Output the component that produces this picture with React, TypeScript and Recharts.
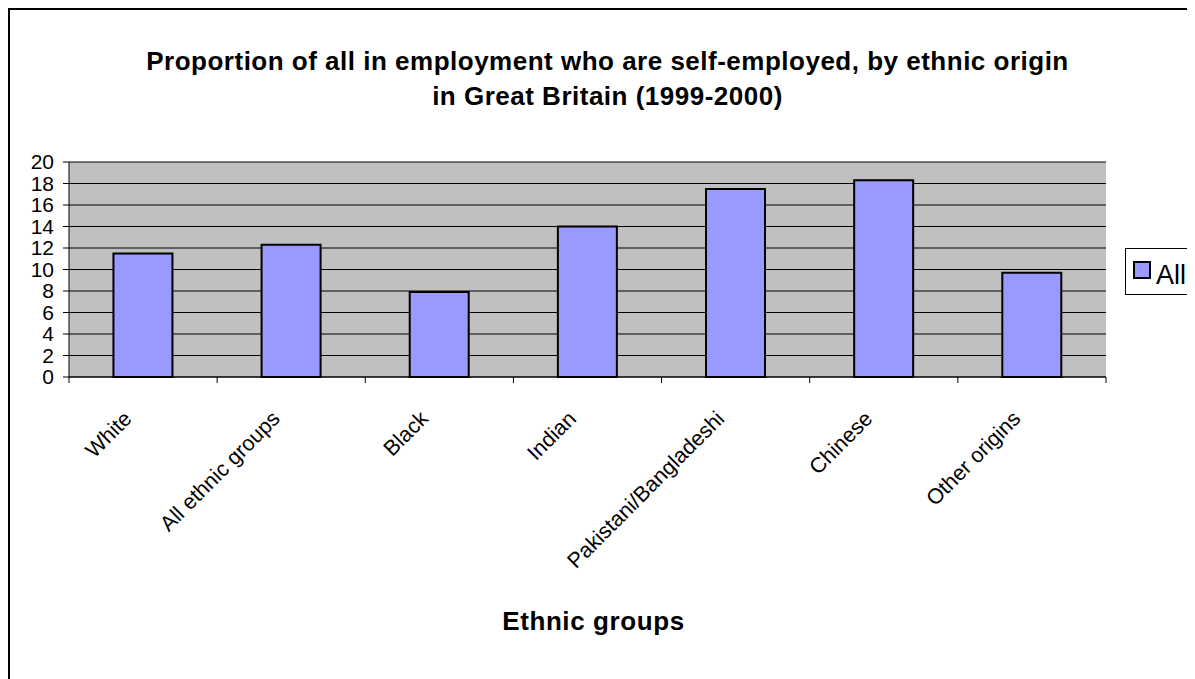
import { Bar, BarChart, CartesianGrid, XAxis, YAxis } from 'recharts';

const categories = [
  'White',
  'All ethnic groups',
  'Black',
  'Indian',
  'Pakistani/Bangladeshi',
  'Chinese',
  'Other origins',
];
const allValues = [11.5, 12.3, 7.9, 14.0, 17.5, 18.3, 9.7];
const yTicks = [0, 2, 4, 6, 8, 10, 12, 14, 16, 18, 20];
const seriesName = 'All';
const titleLines = [
  'Proportion of all in employment who are self-employed, by ethnic origin',
  'in Great Britain (1999-2000)',
];
const xTitle = 'Ethnic groups';

const data = categories.map((name, i) => ({ name, all: allValues[i] }));

const FONT = '"Liberation Sans", Arial, sans-serif';

function CategoryTick(props: any) {
  const { x, y, payload, index } = props;
  const half = payload?.offset ?? 0;
  const tx = x - 10;
  const ty = y + 43;
  return (
    <g>
      <line x1={x - half} x2={x - half} y1={y} y2={y + 6} stroke="#000" />
      {index === categories.length - 1 && (
        <line x1={x + half} x2={x + half} y1={y} y2={y + 6} stroke="#000" />
      )}
      <text
        x={tx}
        y={ty}
        textAnchor="end"
        transform={`rotate(-45, ${tx}, ${ty})`}
        fontSize={21.5}
        fontFamily={FONT}
        fill="#000"
      >
        {payload.value}
      </text>
    </g>
  );
}

export default function App() {
  return (
    <div
      style={{
        position: 'relative',
        width: 1187,
        height: 671,
        borderTop: '2px solid #000',
        borderLeft: '2px solid #000',
        boxSizing: 'border-box',
        background: '#fff',
        fontFamily: FONT,
        overflow: 'hidden',
      }}
    >
      <div
        style={{
          position: 'absolute',
          left: 0,
          width: 1195,
          top: 34,
          textAlign: 'center',
          fontWeight: 'bold',
          fontSize: 26,
          letterSpacing: 0.5,
          lineHeight: '35px',
          color: '#000',
        }}
      >
        {titleLines.map((t) => (
          <div key={t}>{t}</div>
        ))}
      </div>
      <BarChart
        width={1185}
        height={669}
        data={data}
        margin={{ top: 152, right: 89, bottom: 152, left: 9 }}
        barCategoryGap="30%"
      >
        <CartesianGrid vertical={false} stroke="#000" fill="#c0c0c0" fillOpacity={1} />
        <XAxis
          dataKey="name"
          interval={0}
          height={150}
          axisLine={{ stroke: '#000' }}
          tickLine={false}
          tickSize={0}
          tickMargin={0}
          tick={<CategoryTick />}
        />
        <YAxis
          domain={[0, 20]}
          ticks={yTicks}
          interval={0}
          width={50}
          axisLine={{ stroke: '#000' }}
          tickLine={{ stroke: '#000' }}
          tickSize={6}
          tickMargin={9}
          tick={{ fill: '#000', fontSize: 21, fontFamily: FONT }}
        />
        <YAxis
          yAxisId="right"
          orientation="right"
          width={0}
          tick={false}
          tickLine={false}
          axisLine={{ stroke: '#808080' }}
        />
        <Bar
          dataKey="all"
          name={seriesName}
          fill="#9999ff"
          stroke="#000"
          strokeWidth={2}
          isAnimationActive={false}
        />
      </BarChart>
      <div
        style={{
          position: 'absolute',
          left: 0,
          width: 1167,
          top: 596,
          textAlign: 'center',
          fontWeight: 'bold',
          fontSize: 26,
          letterSpacing: 0.6,
          color: '#000',
        }}
      >
        {xTitle}
      </div>
      <div
        style={{
          position: 'absolute',
          left: 1115,
          top: 238,
          width: 110,
          height: 47,
          border: '1px solid #000',
          boxSizing: 'border-box',
          display: 'flex',
          alignItems: 'center',
          paddingLeft: 7,
          background: '#fff',
        }}
      >
        <span
          style={{
            display: 'inline-block',
            width: 18,
            height: 18,
            boxSizing: 'border-box',
            background: '#9999ff',
            border: '2px solid #000',
            marginRight: 5,
            marginTop: -4,
          }}
        />
        <span style={{ fontSize: 27, color: '#000', lineHeight: '30px', marginTop: 6 }}>
          {seriesName}
        </span>
      </div>
    </div>
  );
}
